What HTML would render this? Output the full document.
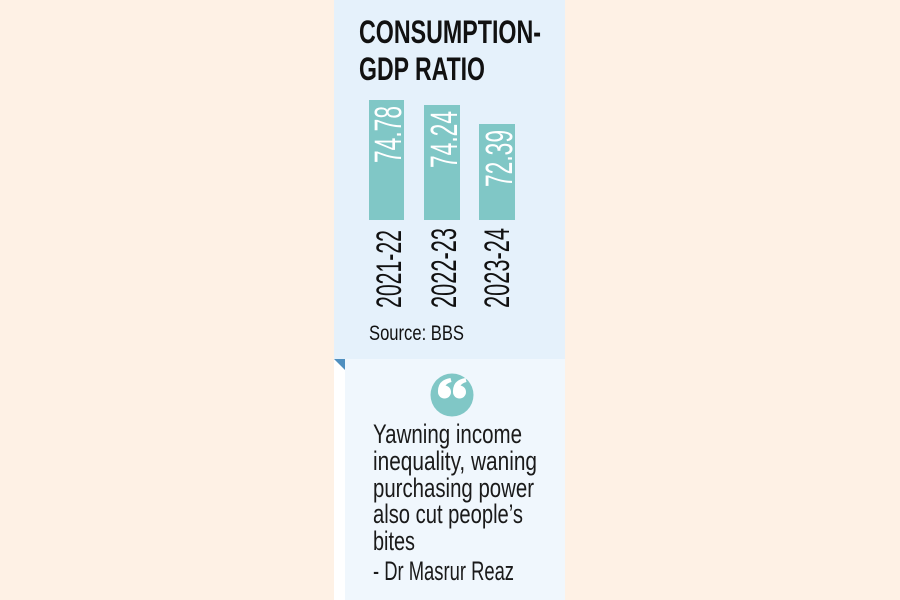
<!DOCTYPE html>
<html>
<head>
<meta charset="utf-8">
<style>
html,body{margin:0;padding:0;}
body{width:900px;height:600px;overflow:hidden;background:#fef1e5;}
svg{display:block;}
</style>
</head>
<body>
<svg width="900" height="600" viewBox="0 0 900 600" xmlns="http://www.w3.org/2000/svg">
  <rect x="0" y="0" width="900" height="600" fill="#fef1e5"/>
  <!-- top panel -->
  <rect x="334" y="0" width="231" height="359" fill="#e5f1fb"/>
  <!-- white strip -->
  <rect x="334" y="359" width="11" height="241" fill="#ffffff"/>
  <!-- lower panel -->
  <rect x="345" y="359" width="220" height="241" fill="#f0f7fd"/>
  <!-- triangle -->
  <polygon points="334,359 345,359 345,370" fill="#4f8fbf"/>

  <g font-family="'Liberation Sans Narrow','Liberation Sans',sans-serif">
    <!-- title -->
    <text x="359" y="43" font-size="32" font-weight="bold" fill="#111" textLength="182" lengthAdjust="spacingAndGlyphs">CONSUMPTION-</text>
    <text x="359" y="80" font-size="32" font-weight="bold" fill="#111" textLength="126" lengthAdjust="spacingAndGlyphs">GDP RATIO</text>

    <!-- bars -->
    <rect x="369" y="100" width="35" height="120" fill="#80c7c6"/>
    <rect x="424" y="105" width="36" height="115" fill="#80c7c6"/>
    <rect x="479" y="124" width="36" height="96" fill="#80c7c6"/>

    <!-- values -->
    <text transform="translate(401,163) rotate(-90)" font-size="38" fill="#ffffff" textLength="57" lengthAdjust="spacingAndGlyphs">74.78</text>
    <text transform="translate(457,168) rotate(-90)" font-size="38" fill="#ffffff" textLength="57" lengthAdjust="spacingAndGlyphs">74.24</text>
    <text transform="translate(512,187) rotate(-90)" font-size="38" fill="#ffffff" textLength="57" lengthAdjust="spacingAndGlyphs">72.39</text>

    <!-- years -->
    <text transform="translate(401,308) rotate(-90)" font-size="35" fill="#111" textLength="78" lengthAdjust="spacingAndGlyphs">2021-22</text>
    <text transform="translate(456,308) rotate(-90)" font-size="35" fill="#111" textLength="80" lengthAdjust="spacingAndGlyphs">2022-23</text>
    <text transform="translate(509,308) rotate(-90)" font-size="35" fill="#111" textLength="80" lengthAdjust="spacingAndGlyphs">2023-24</text>

    <!-- source -->
    <text x="369" y="340" font-size="21" fill="#111" textLength="95" lengthAdjust="spacingAndGlyphs">Source: BBS</text>

    <!-- quote icon -->
    <circle cx="452" cy="395" r="21.5" fill="#80c7c6"/>
    <g fill="#ffffff">
      <circle cx="444.5" cy="392" r="6.5"/>
      <path d="M438,392 Q437.5,380 450.5,378 L451.5,382 Q444,384 444.5,390 Z"/>
      <circle cx="459.5" cy="392" r="6.5"/>
      <path d="M453,392 Q452.5,380 465.5,378 L466.5,382 Q459,384 459.5,390 Z"/>
    </g>

    <!-- quote text -->
    <g font-size="26.5" fill="#1a1a1a">
      <text x="373" y="443" textLength="149" lengthAdjust="spacingAndGlyphs">Yawning income</text>
      <text x="373" y="470" textLength="164" lengthAdjust="spacingAndGlyphs">inequality, waning</text>
      <text x="373" y="497" textLength="161" lengthAdjust="spacingAndGlyphs">purchasing power</text>
      <text x="373" y="523" textLength="150" lengthAdjust="spacingAndGlyphs">also cut people’s</text>
      <text x="373" y="550" textLength="42" lengthAdjust="spacingAndGlyphs">bites</text>
      <text x="373" y="580" textLength="141" lengthAdjust="spacingAndGlyphs">- Dr Masrur Reaz</text>
    </g>
  </g>
</svg>
</body>
</html>
